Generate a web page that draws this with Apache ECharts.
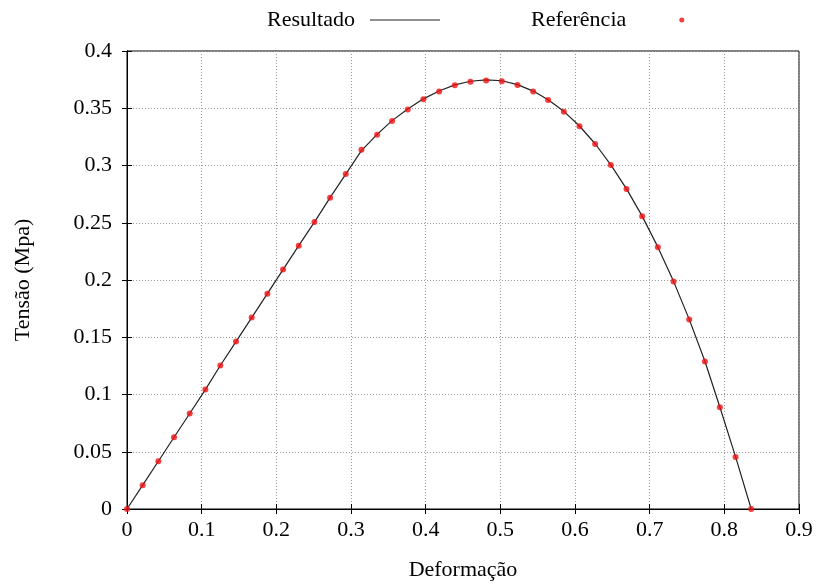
<!DOCTYPE html>
<html>
<head>
<meta charset="utf-8">
<script src="https://cdn.jsdelivr.net/npm/echarts@6/dist/echarts.min.js"></script>
<style>
  html, body {margin: 0; padding: 0; background: #fff;}
  #chart {width: 817px; height: 587px;}
</style>
</head>
<body>
<div id="chart"></div>
<script>
// Deformação values (x), shared by both curves
const deformacao = [
  0, 0.021, 0.042, 0.063, 0.084, 0.105, 0.125, 0.146, 0.167, 0.188,
  0.209, 0.230, 0.251, 0.272, 0.293, 0.314, 0.335, 0.355, 0.376, 0.397,
  0.418, 0.439, 0.460, 0.481, 0.502, 0.523, 0.544, 0.564, 0.585, 0.606,
  0.627, 0.648, 0.669, 0.690, 0.711, 0.732, 0.753, 0.774, 0.794, 0.815, 0.836,
];

// Tensão of the simulated result (black line)
const resultado = [
  0, 0.0208, 0.0417, 0.0627, 0.0834, 0.1043, 0.1253, 0.1462, 0.1672, 0.1881,
  0.2091, 0.2300, 0.2506, 0.2719, 0.2925, 0.3130, 0.3272, 0.3392, 0.3494, 0.3582,
  0.3651, 0.3704, 0.3736, 0.3748, 0.3740, 0.3706, 0.3650, 0.3574, 0.3473, 0.3345,
  0.3190, 0.3006, 0.2796, 0.2558, 0.2287, 0.1988, 0.1656, 0.1290, 0.0891, 0.0457, 0,
];

// Tensão of the reference data (red points)
const referencia = [
  0, 0.0208, 0.0417, 0.0627, 0.0834, 0.1043, 0.1253, 0.1462, 0.1672, 0.1881,
  0.2091, 0.2300, 0.2506, 0.2719, 0.2925, 0.3137, 0.3269, 0.3388, 0.3490, 0.3578,
  0.3647, 0.3700, 0.3732, 0.3743, 0.3735, 0.3702, 0.3647, 0.3571, 0.3470, 0.3342,
  0.3187, 0.3004, 0.2794, 0.2556, 0.2285, 0.1986, 0.1654, 0.1288, 0.0889, 0.0455, 0,
];

const font = "Liberation Serif";
const gridLine = {show: true, lineStyle: {color: "#999", type: [1, 2], width: 1}};
const frame = {show: true, lineStyle: {color: "#000", width: 1}};
const ticks = {show: true, inside: true, length: 5, lineStyle: {color: "#000"}};

const chart = echarts.init(document.getElementById("chart"));
chart.setOption({
  animation: false,
  textStyle: {fontFamily: font},
  legend: [
    {
      data: [{name: "Resultado", icon: "rect"}], left: 262, top: 4, align: "right",
      itemWidth: 70, itemHeight: 1,
      textStyle: {fontFamily: font, fontSize: 22, color: "#000", padding: [0, 10, 0, 0]},
    },
    {
      data: [{name: "Referência", icon: "circle"}], left: 526, top: 4, align: "right",
      itemWidth: 5, itemHeight: 5,
      textStyle: {fontFamily: font, fontSize: 22, color: "#000", padding: [0, 48, 0, 0]},
    },
  ],
  grid: {left: 127, right: 18, top: 51, bottom: 78, show: true, borderColor: "#000", borderWidth: 1},
  xAxis: [
    {
      type: "value", min: 0, max: 0.9, interval: 0.1, position: "bottom",
      name: "Deformação", nameLocation: "middle", nameGap: 50,
      nameTextStyle: {fontFamily: font, fontSize: 22, color: "#000"},
      axisLine: frame, axisTick: ticks, splitLine: gridLine,
      axisLabel: {fontFamily: font, fontSize: 22, color: "#000", margin: 10},
    },
    {
      type: "value", min: 0, max: 0.9, interval: 0.1, position: "top",
      axisLine: frame, axisTick: ticks, splitLine: {show: false}, axisLabel: {show: false},
    },
  ],
  yAxis: [
    {
      type: "value", min: 0, max: 0.4, interval: 0.05, position: "left",
      name: "Tensão (Mpa)", nameLocation: "middle", nameGap: 93,
      nameTextStyle: {fontFamily: font, fontSize: 22, color: "#000"},
      axisLine: frame, axisTick: ticks, splitLine: gridLine,
      axisLabel: {fontFamily: font, fontSize: 22, color: "#000", margin: 15},
    },
    {
      type: "value", min: 0, max: 0.4, interval: 0.05, position: "right",
      axisLine: frame, axisTick: ticks, splitLine: {show: false}, axisLabel: {show: false},
    },
  ],
  series: [
    {
      name: "Resultado", type: "line", symbol: "none",
      data: deformacao.map((x, i) => [x, resultado[i]]),
      lineStyle: {color: "#222", width: 1.2},
      itemStyle: {color: "#222"},
      z: 2,
    },
    {
      name: "Referência", type: "scatter", symbol: "circle", symbolSize: 6,
      data: deformacao.map((x, i) => [x, referencia[i]]),
      itemStyle: {color: "#f01010"},
      z: 3,
    },
  ],
});
</script>
</body>
</html>
